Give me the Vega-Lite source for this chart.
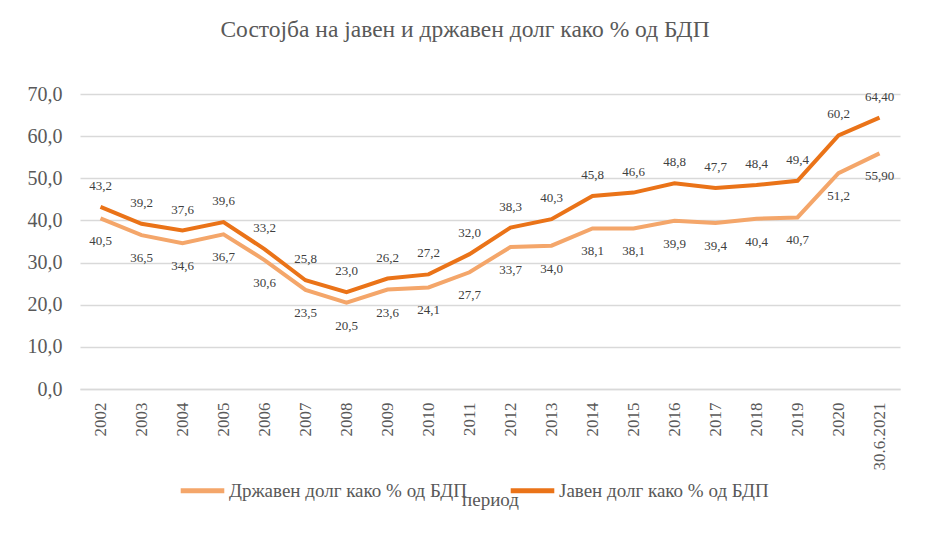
{
  "$schema": "https://vega.github.io/schema/vega-lite/v6.json",
  "width": 820,
  "height": 295,
  "autosize": {"type": "none"},
  "padding": {"left": 80, "top": 94, "right": 29, "bottom": 152},
  "background": "white",
  "title": {
    "text": "Состојба на јавен и државен долг како % од БДП",
    "font": "Liberation Serif",
    "fontSize": 23.5,
    "fontWeight": "normal",
    "color": "#595959",
    "anchor": "middle",
    "dx": -25,
    "offset": 43
  },
  "config": {
    "view": {"stroke": null},
    "font": "Liberation Serif"
  },
  "data": {
    "values": [
      {"period": "2002", "series": "Јавен долг како % од БДП", "value": 43.2, "label": "43,2"},
      {"period": "2003", "series": "Јавен долг како % од БДП", "value": 39.2, "label": "39,2"},
      {"period": "2004", "series": "Јавен долг како % од БДП", "value": 37.6, "label": "37,6"},
      {"period": "2005", "series": "Јавен долг како % од БДП", "value": 39.6, "label": "39,6"},
      {"period": "2006", "series": "Јавен долг како % од БДП", "value": 33.2, "label": "33,2"},
      {"period": "2007", "series": "Јавен долг како % од БДП", "value": 25.8, "label": "25,8"},
      {"period": "2008", "series": "Јавен долг како % од БДП", "value": 23.0, "label": "23,0"},
      {"period": "2009", "series": "Јавен долг како % од БДП", "value": 26.2, "label": "26,2"},
      {"period": "2010", "series": "Јавен долг како % од БДП", "value": 27.2, "label": "27,2"},
      {"period": "2011", "series": "Јавен долг како % од БДП", "value": 32.0, "label": "32,0"},
      {"period": "2012", "series": "Јавен долг како % од БДП", "value": 38.3, "label": "38,3"},
      {"period": "2013", "series": "Јавен долг како % од БДП", "value": 40.3, "label": "40,3"},
      {"period": "2014", "series": "Јавен долг како % од БДП", "value": 45.8, "label": "45,8"},
      {"period": "2015", "series": "Јавен долг како % од БДП", "value": 46.6, "label": "46,6"},
      {"period": "2016", "series": "Јавен долг како % од БДП", "value": 48.8, "label": "48,8"},
      {"period": "2017", "series": "Јавен долг како % од БДП", "value": 47.7, "label": "47,7"},
      {"period": "2018", "series": "Јавен долг како % од БДП", "value": 48.4, "label": "48,4"},
      {"period": "2019", "series": "Јавен долг како % од БДП", "value": 49.4, "label": "49,4"},
      {"period": "2020", "series": "Јавен долг како % од БДП", "value": 60.2, "label": "60,2"},
      {"period": "30.6.2021", "series": "Јавен долг како % од БДП", "value": 64.4, "label": "64,40"},
      {"period": "2002", "series": "Државен долг како % од  БДП", "value": 40.5, "label": "40,5"},
      {"period": "2003", "series": "Државен долг како % од  БДП", "value": 36.5, "label": "36,5"},
      {"period": "2004", "series": "Државен долг како % од  БДП", "value": 34.6, "label": "34,6"},
      {"period": "2005", "series": "Државен долг како % од  БДП", "value": 36.7, "label": "36,7"},
      {"period": "2006", "series": "Државен долг како % од  БДП", "value": 30.6, "label": "30,6"},
      {"period": "2007", "series": "Државен долг како % од  БДП", "value": 23.5, "label": "23,5"},
      {"period": "2008", "series": "Државен долг како % од  БДП", "value": 20.5, "label": "20,5"},
      {"period": "2009", "series": "Државен долг како % од  БДП", "value": 23.6, "label": "23,6"},
      {"period": "2010", "series": "Државен долг како % од  БДП", "value": 24.1, "label": "24,1"},
      {"period": "2011", "series": "Државен долг како % од  БДП", "value": 27.7, "label": "27,7"},
      {"period": "2012", "series": "Државен долг како % од  БДП", "value": 33.7, "label": "33,7"},
      {"period": "2013", "series": "Државен долг како % од  БДП", "value": 34.0, "label": "34,0"},
      {"period": "2014", "series": "Државен долг како % од  БДП", "value": 38.1, "label": "38,1"},
      {"period": "2015", "series": "Државен долг како % од  БДП", "value": 38.1, "label": "38,1"},
      {"period": "2016", "series": "Државен долг како % од  БДП", "value": 39.9, "label": "39,9"},
      {"period": "2017", "series": "Државен долг како % од  БДП", "value": 39.4, "label": "39,4"},
      {"period": "2018", "series": "Државен долг како % од  БДП", "value": 40.4, "label": "40,4"},
      {"period": "2019", "series": "Државен долг како % од  БДП", "value": 40.7, "label": "40,7"},
      {"period": "2020", "series": "Државен долг како % од  БДП", "value": 51.2, "label": "51,2"},
      {"period": "30.6.2021", "series": "Државен долг како % од  БДП", "value": 55.9, "label": "55,90"}
    ]
  },
  "encoding": {
    "x": {
      "field": "period",
      "type": "ordinal",
      "sort": null,
      "scale": {"paddingInner": 0, "paddingOuter": 0},
      "axis": {
        "title": "период",
        "titleFont": "Liberation Serif",
        "titleFontSize": 19,
        "titleFontWeight": "normal",
        "titleColor": "#595959",
        "titlePadding": 20,
        "labelAngle": -90,
        "labelFont": "Liberation Serif",
        "labelFontSize": 17,
        "labelColor": "#595959",
        "labelPadding": 13,
        "ticks": false,
        "domainColor": "#D9D9D9",
        "domainWidth": 1.5,
        "grid": false
      }
    },
    "y": {
      "field": "value",
      "type": "quantitative",
      "scale": {"domain": [0, 70], "nice": false},
      "axis": {
        "title": null,
        "values": [0, 10, 20, 30, 40, 50, 60, 70],
        "labelExpr": "replace(format(datum.value, '.1f'), '.', ',')",
        "labelFont": "Liberation Serif",
        "labelFontSize": 20,
        "labelColor": "#595959",
        "labelPadding": 18,
        "ticks": false,
        "domain": false,
        "grid": true,
        "gridColor": "#D9D9D9",
        "gridWidth": 1.5
      }
    }
  },
  "layer": [
    {
      "mark": {"type": "line", "strokeWidth": 4, "strokeCap": "butt", "strokeJoin": "miter"},
      "encoding": {
        "color": {
          "field": "series",
          "type": "nominal",
          "scale": {
            "domain": ["Државен долг како % од  БДП", "Јавен долг како % од БДП"],
            "range": ["#F4A66A", "#EA7318"]
          },
          "legend": {
            "title": null,
            "orient": "none",
            "direction": "horizontal",
            "legendX": 98,
            "legendY": 372,
            "symbolType": "stroke",
            "symbolStrokeWidth": 5,
            "symbolSize": 1900,
            "labelFont": "Liberation Serif",
            "labelFontSize": 19,
            "labelColor": "#595959",
            "labelOffset": 2,
            "labelLimit": 0,
            "columnPadding": 28
          }
        }
      }
    },
    {
      "transform": [{"filter": "datum.series == 'Јавен долг како % од БДП'"}],
      "mark": {"type": "text", "dy": -21, "fontSize": 13, "color": "#404040", "font": "Liberation Serif"},
      "encoding": {"text": {"field": "label"}}
    },
    {
      "transform": [{"filter": "datum.series != 'Јавен долг како % од БДП'"}],
      "mark": {"type": "text", "dy": 23, "fontSize": 13, "color": "#404040", "font": "Liberation Serif"},
      "encoding": {"text": {"field": "label"}}
    }
  ]
}
